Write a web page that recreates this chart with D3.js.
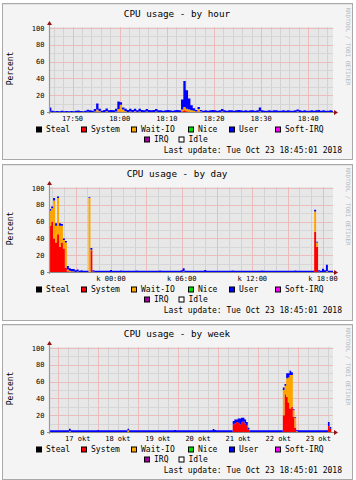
<!DOCTYPE html>
<html><head><meta charset="utf-8">
<script src="https://cdn.jsdelivr.net/npm/d3@7"></script>
<style>html,body{margin:0;padding:0;background:#fff;}svg{display:block;}</style>
</head><body>
<svg id="chart" width="356" height="480"></svg>
<script>
// ---------------- data ----------------
const seriesNames  = ["Steal","System","Wait-IO","Nice","User","Soft-IRQ","IRQ","Idle"];
const seriesColors = ["#000000","#ff0000","#ffa500","#00dd00","#0000ff","#ff00ff","#a000a0","#ffffff"];
const titles = ["CPU usage - by hour","CPU usage - by day","CPU usage - by week"];
const yTicks = [0,20,40,60,80,100];
const yLabel = "Percent";
const lastUpdate = "Last update: Tue Oct 23 18:45:01 2018";
const watermark = "RRDTOOL / TOBI OETIKER";
const hourLabels = ["17:50","18:00","18:10","18:20","18:30","18:40"];
const dayLabels  = ["k 00:00","k 06:00","k 12:00","k 18:00"];
const weekLabels = ["17 okt","18 okt","19 okt","20 okt","21 okt","22 okt","23 okt"];

// by hour: 30-second samples from 17:45:00
const hourSys = [
0.3,0,0,0,0,0,0,0,0,0,
0,0,0,0,0,0,0,0,0,0,
0.5,0,0,0,0,0,0,0,0,0.5,
0.5,0,0,0,0,0,0,0,0,0,
0,0,0,0,0,0,0,0,0,0,
0,0,0,0,0,0,1,2,1,0.5,
0,0,0,0.5,0,0,0,0,0,0,
0,0,0,0,0,0,0,0,0,0,
0,0,0,0,0,0,0,0,0,0,
0,0,0,0,0,0,0,0,0,0,
0,0,0,0,0,0,0,0,0,0,
0,0,0,0,0,0,0,0,0,0,
0];
const hourWio = [
0,0,0,0,0,0,0,0,0,0,
0,0,0,0,0,0,0.3,0,0,0.5,
2.5,1,0,0,0.8,0,0,0,0.5,3,
8,3,1,0,0.5,0,1,0,0.5,0,
0,0.5,0,0,0,0.5,0,0,0,0,
0,0,0,0,0,0,2,4,3,2.5,
2,1.5,0.5,3,0.5,0,0,0,0,0,
0,0,0,0.5,0,0,0,0,0,0,
0,0,0,0,0,0,0,0,0,0.5,
0,0,0,0,0,0,0,0,0,0,
0,0,0,0,0,0.5,0,0,0,0,
0,0,0,0,0,0,0,0,0,0,
0];
const hourUser = [
5,1.5,1,1.2,1,1.5,1,1.2,1,1.3,
1,1.5,1.8,1.2,1,1.5,2.5,2,1.5,3,
7,3,1.5,2.5,3.5,2,2.5,2,3.5,9,
3,2.5,3,2.5,3.5,2.5,3,2,3.5,2.5,
2,3,2.5,2,2.5,3,2,2,1.5,2,
2.5,2,1.5,2,2.5,2,12,31,22,13,
6,3,2,2.5,2,1.5,2,1.5,2,2.5,
2,1.5,2,3,2,1.5,2,2,1.5,2,
2.5,2,1.5,2,1.5,2,2,1.5,2,5,
2,1.5,1.5,2,1.5,2,2,1.5,1.5,2,
1.5,2,1.5,1.5,2,2.5,2,1.5,2,1.5,
1.5,2,1.5,2,2.5,1.5,2,1.5,1.5,2,
1.5];

// by day: 10-minute samples from Oct 22 18:45
const daySys = [
55,60,40,35,45,30,35,28,5,1,
0.5,0.5,0,0,0,0,0,0,0,0,
0,26,0.5,0,0,0,0,0,0,0,
0,0,0,0,0,0,0,0,0,0,
0,0,0,0,0,0,0,0,0,0,
0,0,0,0,0,0,0,0,0,0,
0,0,0,0,0,0,0,0,0,0,
0,0,0,0,0,0,0,0,0,0,
0,0,0,0,0,0,0,0,0,0,
0,0,0,0,0,0,0,0,0,0,
0,0,0,0,0,0,0,0,0,0,
0,0,0,0,0,0,0,0,0,0,
0,0,0,0,0,0,0,0,0,0,
0,0,0,0,0,48,30,0.5,0,0,
0,0,0,0,0];
const dayWio = [
18,16,45,20,43,25,20,10,30,2,
1,0.5,0.5,0,0.5,0,0,0,0,0,
88,0.5,0,0,0,0,0,0,0,0,
0,0,0,0,0,0,0,0,0,0,
0,0,0,0,0,0,0,0,0,0,
0,0,0,0,0,0,0,0,0,0,
0,0,0,0,0,0,0,0,0.5,0,
0,0,0,0,0,0,0,0,0,0,
0,0,0,0,0,0,0,0,0,0,
0,0,0,0,0,0,0,0,0,0,
0,0,0,0,0,0,0,0,0,0,
0,0,0,0,0,0,0,0,0,0,
0,0,0,0,0,0,0,0,0,0,
0,0,0,0,0,24,5,0,0,0,
0,1,0,0,0];
const dayUser = [
2,2,3,3,2,3,2,2,2,4,
3,2.5,3,2,2.5,1.5,2,1.5,1.5,1.5,
1,2,1.5,1.5,1.5,1.5,1.5,1.5,1.5,1.5,
1.5,2.5,1.5,1.5,1.5,1.5,1.8,1.5,1.5,1.5,
1.5,1.5,1.5,1.5,1.8,1.5,1.5,1.5,1.5,1.5,
1.5,1.5,1.5,1.5,1.5,1.5,1.8,1.5,1.5,1.5,
1.5,1.5,1.5,1.5,1.5,1.5,1.5,2,4,1.5,
1.5,1.5,1.5,1.5,1.5,1.5,1.5,1.5,1.5,2.5,
1.5,1.5,1.5,1.5,1.5,1.5,1.5,1.5,1.5,1.5,
1.5,1.5,1.5,1.8,1.5,1.5,1.5,1.5,1.5,1.5,
1.5,1.5,1.5,1.5,1.5,1.5,1.5,1.5,1.8,1.5,
1.5,1.5,1.5,1.5,1.5,1.5,1.5,1.5,1.5,1.5,
1.5,1.5,1.5,1.5,1.5,1.8,1.5,1.5,1.5,1.5,
1.5,1.5,1.5,1.5,1.5,2,1,1.5,1.5,4,
2,7.5,1.5,1.5,1.5];

// by week: hourly samples from Oct 16 18:45
const weekSys = [
0,0,0,0,0,0,0,0,0,0,
0,0,0,0,0,0,0,0,0,0,
0,0,0,0,0,0,0,0,0,0,
0,0,0,0,0,0,0,0,0,0,
0,0,0,0,0,0,0,0,0,0,
0,0,0,0,0,0,0,0,0,0,
0,0,0,0,0,0,0,0,0,0,
0,0,0,0,0,0,0,0,0,0,
0,0,0,0,0,0,0,0,0,0,
0,0,0,0,0,0,0,0,0,0,
0,0,0,0,0,0,0,0,0,0,
9,10,12,11,9,12,13,10,8,3,
0,0,0,0,0,0,0,0,0,0,
0,0,0,0,0,0,0,0,0,0,
20,45,42,35,28,30,18,5,0,0,
0,0,0,0,0,0,0,0,0,0,
0,0,0,0,0,0,0,7,4];
const weekWio = [
0,0,0,0,0,0,0,0,0,0,
0,0,1,0,0,0,0,0,0,0,
0,0,0,0,0,0,0,0,0,0,
0,0,0,0,0,0,0,0,0,0,
0,0,0,0,0,0,0,2,0,0,
0,0,0,0,0,0,0,0,0,0,
0,0,0,0,0,0,0,0,0,0,
0,0,0,0,0,0,0,0,0,0,
0,0,0,0,0,0,0,0,0,0,
0,0,0,0,0,0,0,0,0,0,
0,0,0,0,0,0,0,0,0,0,
0,0,0,0,0,0,0,0,0,0,
0,0,0,0,0,0,0,0,0,0,
0,0,0,0,0,0,0,0,0,0,
30,10,22,30,40,38,8,12,1,0,
0,0,0,0,0,0,0,0,0,0,
0,0,0,0,0,0,0,0,0];
const weekUser = [
2,2,2,2,2,2,2,2,2,2,
2,2,3,2,2,2,2,2,2,2,
2,2,2,2,2,2,2,2,2,2.5,
2,2,2,2,2,2,2,2,2,2,
2,2,2,2,2,2,2,2,2,2,
2,2,2,2,2,2,2,2,2,2,
2,2,2,2,2,2,2,2,2,2,
2,2,2,2,2,2.5,2,2,2,2,
2,2,2,2,2,2,2,2,2,2,
2,2,2,2,2,2,2,2,3.5,2.5,
2,2,2,2,2,2,2,2,2,2,
4,5,3,5,7,5,4,5,4,2,
2,2,2,2,2,2,2,2,2,2,
2,2,2,2,2,2,2,2,2,2,
3,2,6,5,5,3,1,1,1.5,2,
2,2,2,2,2,2,2,2,2,2,
2,2,2,2,2,2,2,5,2];

// ---------------- layout ----------------
const svg = d3.select("#chart");
const mono = "DejaVu Sans Mono";
const plotL = 49, plotR = 333, plotT = 28, plotB = 112;
const panelBoxes = [[3,159],[164,320],[324,479]];

const charts = [
  { title: titles[0], start: new Date(2018,9,23,17,45,0), stepMs: 30e3,
    domain: [new Date(2018,9,23,17,45,0), new Date(2018,9,23,18,45,15)],
    sys: hourSys, wio: hourWio, user: hourUser,
    minor: d3.timeMinute.every(2), major: d3.timeMinute.every(10),
    labelTimes: d3.timeMinute.every(10).range(new Date(2018,9,23,17,50), new Date(2018,9,23,18,41)),
    labels: hourLabels },
  { title: titles[1], start: new Date(2018,9,22,18,45,0), stepMs: 600e3,
    domain: [new Date(2018,9,22,18,44,0), new Date(2018,9,23,18,51,0)],
    sys: daySys, wio: dayWio, user: dayUser,
    minor: d3.timeHour.every(1), major: d3.timeHour.every(3),
    labelTimes: d3.timeHour.every(6).range(new Date(2018,9,23,0), new Date(2018,9,23,18,1)),
    labels: dayLabels },
  { title: titles[2], start: new Date(2018,9,16,18,45,0), stepMs: 3600e3,
    domain: [new Date(2018,9,16,18,47,0), new Date(2018,9,23,20,47,0)],
    sys: weekSys, wio: weekWio, user: weekUser,
    minor: d3.timeHour.every(6), major: d3.timeDay.every(1),
    labelTimes: d3.timeDay.range(new Date(2018,9,17), new Date(2018,9,24)).map(d => d3.timeHour.offset(d,12)),
    labels: weekLabels }
];

const defs = svg.append("defs");

charts.forEach((c, ci) => {
  const oy = 160*ci;
  const g = svg.append("g");
  const [bt, bb] = panelBoxes[ci];

  // panel background and border
  g.append("rect").attr("x",2.5).attr("y",bt+0.5).attr("width",350).attr("height",bb-bt)
    .attr("fill","#f4f4f4").attr("stroke","#a9a9a9");
  g.append("line").attr("x1",3).attr("x2",352).attr("y1",bt+1.5).attr("y2",bt+1.5).attr("stroke","#e2e2e2");

  const x = d3.scaleTime().domain(c.domain).range([plotL, plotR]);
  const y = d3.scaleLinear().domain([0,100]).range([plotB+oy, plotT+oy]);

  // canvas
  g.append("rect").attr("x",plotL).attr("y",plotT+oy-1).attr("width",plotR-plotL).attr("height",plotB-plotT+1)
    .attr("fill","#e7e7e7");

  // grid
  const gridG = g.append("g").attr("shape-rendering","crispEdges");
  const minorT = c.minor.range(c.domain[0], c.domain[1]);
  const majorT = c.major.range(c.domain[0], c.domain[1]);
  gridG.selectAll("line.vmin").data(minorT).join("line")
    .attr("x1",d=>Math.round(x(d))+0.5).attr("x2",d=>Math.round(x(d))+0.5)
    .attr("y1",y(100)-1).attr("y2",y(0)).attr("stroke","#d2d2d2");
  const yMinor = d3.range(10,101,10);
  gridG.selectAll("line.hmin").data(yMinor).join("line")
    .attr("x1",plotL).attr("x2",plotR)
    .attr("y1",d=>Math.round(y(d))+0.5).attr("y2",d=>Math.round(y(d))+0.5).attr("stroke","#d6d6d6");
  gridG.selectAll("line.vmaj").data(majorT).join("line")
    .attr("x1",d=>Math.round(x(d))+0.5).attr("x2",d=>Math.round(x(d))+0.5)
    .attr("y1",y(100)-1).attr("y2",y(0)).attr("stroke","#ebbcbc");
  gridG.selectAll("line.hmaj").data(yTicks.filter(v=>v>0)).join("line")
    .attr("x1",plotL).attr("x2",plotR)
    .attr("y1",d=>Math.round(y(d))+0.5).attr("y2",d=>Math.round(y(d))+0.5).attr("stroke","#ebbcbc");

  // data
  const rows = c.user.map((u,i) => ({ t: new Date(c.start.getTime() + i*c.stepMs), sys: c.sys[i], wio: c.wio[i], user: u }));
  const last = rows[rows.length-1];
  rows.push({ t: new Date(last.t.getTime() + c.stepMs), sys: last.sys, wio: last.wio, user: last.user });
  const keys = ["sys","wio","user"];
  const keyColor = { sys: seriesColors[1], wio: seriesColors[2], user: seriesColors[4] };
  const stacked = d3.stack().keys(keys)(rows);
  const clipId = "clip" + ci;
  defs.append("clipPath").attr("id", clipId).append("rect")
    .attr("x",plotL+1).attr("y",plotT+oy-2).attr("width",plotR-plotL-1).attr("height",plotB-plotT+2);
  const area = d3.area().curve(d3.curveStepAfter)
    .x(d => x(d.data.t)).y0(d => y(d[0])).y1(d => y(d[1]));
  g.append("g").attr("clip-path","url(#"+clipId+")")
    .selectAll("path").data(stacked).join("path")
    .attr("d", area).attr("fill", d => keyColor[d.key]);

  // axes
  g.append("line").attr("x1",plotL-2).attr("x2",plotR+1).attr("y1",y(0)+0.5).attr("y2",y(0)+0.5)
    .attr("stroke","#8a8a8a");
  g.append("line").attr("x1",plotL+0.5).attr("x2",plotL+0.5).attr("y1",y(0)+2).attr("y2",y(100)-4)
    .attr("stroke","#9a9a9a").attr("stroke-width",1.2);
  g.append("path").attr("d",`M${plotL-2},${y(100)-3}L${plotL+3},${y(100)-3}L${plotL+0.5},${y(100)-7}Z`).attr("fill","#9a1010");
  g.append("path").attr("d",`M${plotR+1},${y(0)-2}L${plotR+1},${y(0)+3}L${plotR+5},${y(0)+0.5}Z`).attr("fill","#9a1010");

  // y tick labels
  g.selectAll("text.yt").data(yTicks).join("text")
    .attr("x",44.5).attr("y",d=>y(d)+2.6).attr("text-anchor","end")
    .attr("font-family",mono).attr("font-size",7).attr("fill","#000").text(d=>d);

  // x tick labels
  g.selectAll("text.xt").data(c.labelTimes).join("text")
    .attr("x",d=>x(d)).attr("y",plotB+oy+8.5).attr("text-anchor","middle")
    .attr("font-family",mono).attr("font-size",7).attr("fill","#000")
    .text((d,i)=>c.labels[i]);

  // title
  g.append("text").attr("x",177).attr("y",16.7+oy).attr("text-anchor","middle")
    .attr("font-family",mono).attr("font-size",9.3).attr("fill","#000").text(c.title);

  // y label
  g.append("text").attr("transform",`translate(13.3,${68.5+oy}) rotate(-90)`)
    .attr("text-anchor","middle").attr("font-family",mono).attr("font-size",8).attr("fill","#000").text(yLabel);

  // watermark
  g.append("text").attr("transform",`translate(346,${7.5+oy}) rotate(90)`)
    .attr("font-family",mono).attr("font-size",5.9).attr("fill","#b8b8b8").text(watermark);

  // legend
  const legendPos = [
    [36,126.5],[81,126.5],[131,126.5],[188,126.5],[229,126.5],[275,126.5],
    [144,136.5],[178.5,136.5]
  ];
  const lg = g.append("g");
  seriesNames.forEach((nm, si) => {
    const [lx, ly] = legendPos[si];
    lg.append("rect").attr("x",lx+0.5).attr("y",ly+oy+0.5).attr("width",5).attr("height",5)
      .attr("fill",seriesColors[si]).attr("stroke","#000").attr("stroke-width",1);
    lg.append("text").attr("x",lx+10).attr("y",ly+oy+5.6)
      .attr("font-family",mono).attr("font-size",8).attr("fill","#000").text(nm);
  });
  g.append("text").attr("x",342).attr("y",153+oy).attr("text-anchor","end")
    .attr("font-family",mono).attr("font-size",8).attr("fill","#000").text(lastUpdate);
});
</script>
</body></html>
